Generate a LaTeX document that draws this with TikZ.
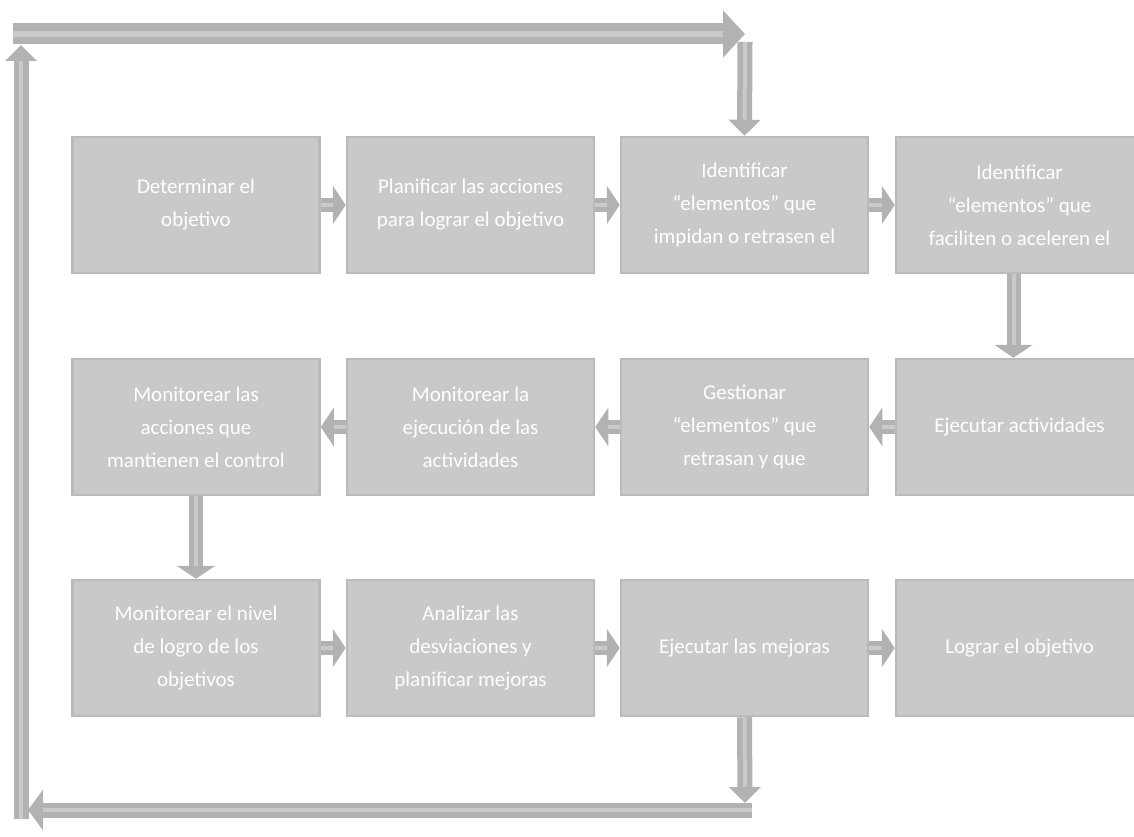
\documentclass[tikz,border=0pt]{standalone}
\usepackage{fontspec}
\setmainfont{Carlito}
\usetikzlibrary{arrows.meta}
\definecolor{boxfill}{RGB}{201,201,201}
\definecolor{boxedge}{RGB}{186,186,186}
\definecolor{arrowc}{RGB}{178,178,178}
\definecolor{arrowin}{RGB}{202,202,202}
\begin{document}
\begin{tikzpicture}[x=1pt,y=-1pt,
  stepbox/.style={draw=boxedge, line width=2.5pt, fill=boxfill, minimum width=247pt,
    minimum height=136pt, inner sep=0pt, text=white, align=center,
    font=\fontsize{21}{33}\selectfont},
  linkarrow/.style={draw=arrowc, line width=14pt, -{Triangle[length=13pt,width=38pt]},
    postaction={draw=arrowin, line width=4pt, -, shorten >=13pt}},
  ringarrow/.style={draw=arrowc, line width=15pt, -{Triangle[length=16pt,width=31pt]},
    postaction={draw=arrowin, line width=4pt, -, shorten >=16pt}},
  topbar/.style={draw=arrowc, line width=21pt, -{Triangle[length=22pt,width=46pt]},
    postaction={draw=arrowin, line width=6pt, -, shorten >=22pt}},
  botbar/.style={draw=arrowc, line width=15pt, -{Triangle[length=15pt,width=40pt]},
    postaction={draw=arrowin, line width=4pt, -, shorten >=15pt}}
]
\fill[white] (0,0) rectangle (1134,837);
\useasboundingbox (0,0) rectangle (1134,837);

% row 1
\node[stepbox] (b1) at (196,205) {Determinar el\\objetivo};
\node[stepbox] (b2) at (470.5,205) {Planificar las acciones\\para lograr el objetivo};
\node[stepbox] (b3) at (744.5,205) {Identificar\\“elementos” que\\impidan o retrasen el};
\node[stepbox] (b4) at (1019.5,205) {Identificar\\“elementos” que\\faciliten o aceleren el};
% row 2
\node[stepbox] (b5) at (1019.5,427) {Ejecutar actividades};
\node[stepbox] (b6) at (744.5,427) {Gestionar\\“elementos” que\\retrasan y que};
\node[stepbox] (b7) at (470.5,427) {Monitorear la\\ejecución de las\\actividades};
\node[stepbox] (b8) at (196,427) {Monitorear las\\acciones que\\mantienen el control};
% row 3
\node[stepbox] (b9) at (196,648) {Monitorear el nivel\\de logro de los\\objetivos};
\node[stepbox] (b10) at (470.5,648) {Analizar las\\desviaciones y\\planificar mejoras};
\node[stepbox] (b11) at (744.5,648) {Ejecutar las mejoras};
\node[stepbox] (b12) at (1019.5,648) {Lograr el objetivo};

% short arrows
\draw[linkarrow] (b1.east) -- (b2.west);
\draw[linkarrow] (b2.east) -- (b3.west);
\draw[linkarrow] (b3.east) -- (b4.west);
\draw[linkarrow] (b5.west) -- (b6.east);
\draw[linkarrow] (b6.west) -- (b7.east);
\draw[linkarrow] (b7.west) -- (b8.east);
\draw[linkarrow] (b9.east) -- (b10.west);
\draw[linkarrow] (b10.east) -- (b11.west);
\draw[linkarrow] (b11.east) -- (b12.west);
\draw[linkarrow] ([xshift=-6pt]b4.south) -- ([xshift=-6pt]b5.north);
\draw[linkarrow] (b8.south) -- (b9.north);

% feedback loop
\coordinate (lb) at (21,819);
\coordinate (lt) at (21,45);
\coordinate (tl) at (13,34);
\coordinate (tr) at (745,34);
\coordinate (td) at (745,42);
\coordinate (bd) at (745,803);
\coordinate (be) at (752,810);
\coordinate (bl) at (28,810);

\draw[ringarrow] (td) -- (b3.north);
\draw[topbar] (tl) -- (tr);
\draw[ringarrow] (lb) -- (lt);
\draw[ringarrow] (b11.south) -- (bd);
\draw[botbar] (be) -- (bl);
\end{tikzpicture}
\end{document}
